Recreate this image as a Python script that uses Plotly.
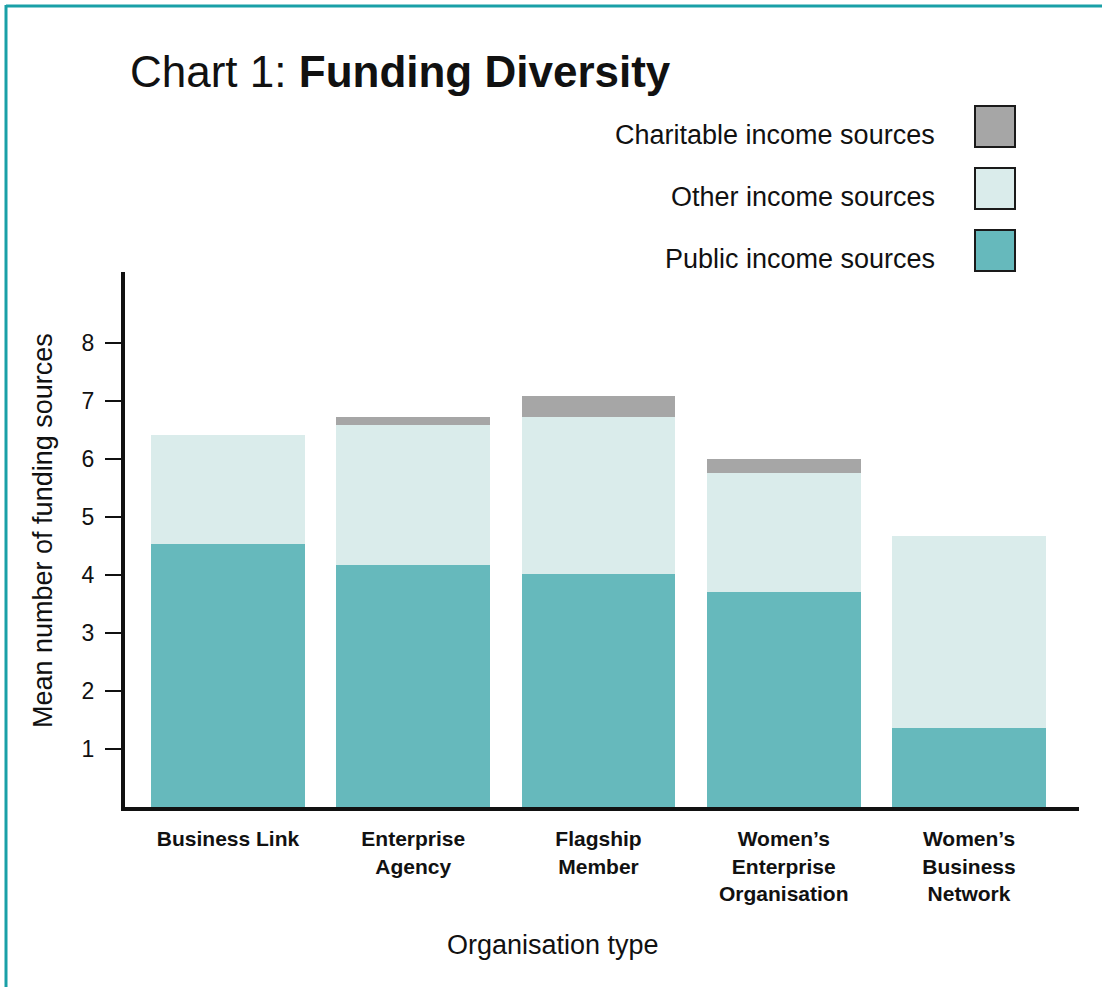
import plotly.graph_objects as go

# Mean number of funding sources by organisation type
categories = [
    "Business Link",
    "Enterprise<br>Agency",
    "Flagship<br>Member",
    "Women’s<br>Enterprise<br>Organisation",
    "Women’s<br>Business<br>Network",
]
public_income = [4.53, 4.18, 4.02, 3.71, 1.36]
other_income = [1.88, 2.41, 2.70, 2.05, 3.31]
charitable_income = [0.0, 0.13, 0.37, 0.24, 0.0]
y_ticks = [1, 2, 3, 4, 5, 6, 7, 8]

series_names = ["Public income sources", "Other income sources", "Charitable income sources"]
series_colors = ["#66b9bc", "#daeceb", "#a6a6a6"]

FONT = "Liberation Sans, Arial, sans-serif"
W, H = 1102, 987
L, R, T, B = 125, 1079, 272, 807


def px_x(px):
    return (px - L) / (R - L)


def px_y(py):
    return (B - py) / (B - T)


x_idx = list(range(len(categories)))

fig = go.Figure()
for name, vals, col in zip(series_names, [public_income, other_income, charitable_income], series_colors):
    fig.add_trace(go.Bar(
        x=x_idx, y=vals, name=name,
        marker=dict(color=col, line=dict(width=0)),
        showlegend=False,
    ))

shapes = []
annotations = []

# Legend: text on the left, swatch on the right
legend_rows = [
    ("Charitable income sources", "#a6a6a6", 106),
    ("Other income sources", "#daeceb", 168),
    ("Public income sources", "#66b9bc", 230),
]
for label, col, top in legend_rows:
    shapes.append(dict(
        type="rect", xref="paper", yref="paper",
        x0=px_x(975), x1=px_x(1015), y0=px_y(top + 41), y1=px_y(top),
        fillcolor=col, line=dict(color="#1a1a1a", width=2),
    ))
    annotations.append(dict(
        text=label, xref="paper", yref="paper",
        x=px_x(937), y=px_y(top + 29), xanchor="right", yanchor="middle",
        showarrow=False, font=dict(family=FONT, size=27, color="#111111"),
    ))

# Title
annotations.append(dict(
    text="Chart 1: <b>Funding Diversity</b>", xref="paper", yref="paper",
    x=px_x(128), y=px_y(72), xanchor="left", yanchor="middle",
    showarrow=False, font=dict(family=FONT, size=44, color="#111111"),
))

# Axis titles
annotations.append(dict(
    text="Mean number of funding sources", xref="paper", yref="paper",
    x=px_x(43), y=px_y(531), xanchor="center", yanchor="middle", textangle=-90,
    showarrow=False, font=dict(family=FONT, size=27, color="#111111"),
))
annotations.append(dict(
    text="Organisation type", xref="paper", yref="paper",
    x=px_x(553), y=px_y(945), xanchor="center", yanchor="middle",
    showarrow=False, font=dict(family=FONT, size=27, color="#111111"),
))

# Teal frame along the top and left edges
shapes.append(dict(type="line", xref="paper", yref="paper",
                   x0=px_x(6), x1=px_x(W + 2), y0=px_y(6), y1=px_y(6),
                   line=dict(color="#1aa0a7", width=3)))
shapes.append(dict(type="line", xref="paper", yref="paper",
                   x0=px_x(6), x1=px_x(6), y0=px_y(5), y1=px_y(H + 2),
                   line=dict(color="#1aa0a7", width=3)))

pitch = 185.25
fig.update_layout(
    width=W, height=H,
    margin=dict(l=L, r=W - R, t=T, b=H - B, pad=0),
    paper_bgcolor="white", plot_bgcolor="white",
    barmode="stack", bargap=0.17,
    font=dict(family=FONT, color="#111111"),
    shapes=shapes, annotations=annotations,
    xaxis=dict(
        tickmode="array", tickvals=x_idx, ticktext=["<b>%s</b>" % c for c in categories],
        range=[(L - 228) / pitch, (R - 228) / pitch],
        showline=True, linecolor="#111111", linewidth=4,
        ticks="", showgrid=False, zeroline=False,
        tickfont=dict(family=FONT, size=21, color="#111111"),
        ticklabelstandoff=10,
        fixedrange=True,
    ),
    yaxis=dict(
        tickmode="array", tickvals=y_ticks,
        range=[0, (B - T) / 58.0],
        showline=True, linecolor="#111111", linewidth=4,
        ticks="outside", ticklen=16, tickwidth=2, tickcolor="#111111",
        showgrid=False, zeroline=False,
        tickfont=dict(family=FONT, size=23, color="#111111"),
        ticklabelstandoff=6,
        fixedrange=True,
    ),
)

fig.write_html("out.html")
